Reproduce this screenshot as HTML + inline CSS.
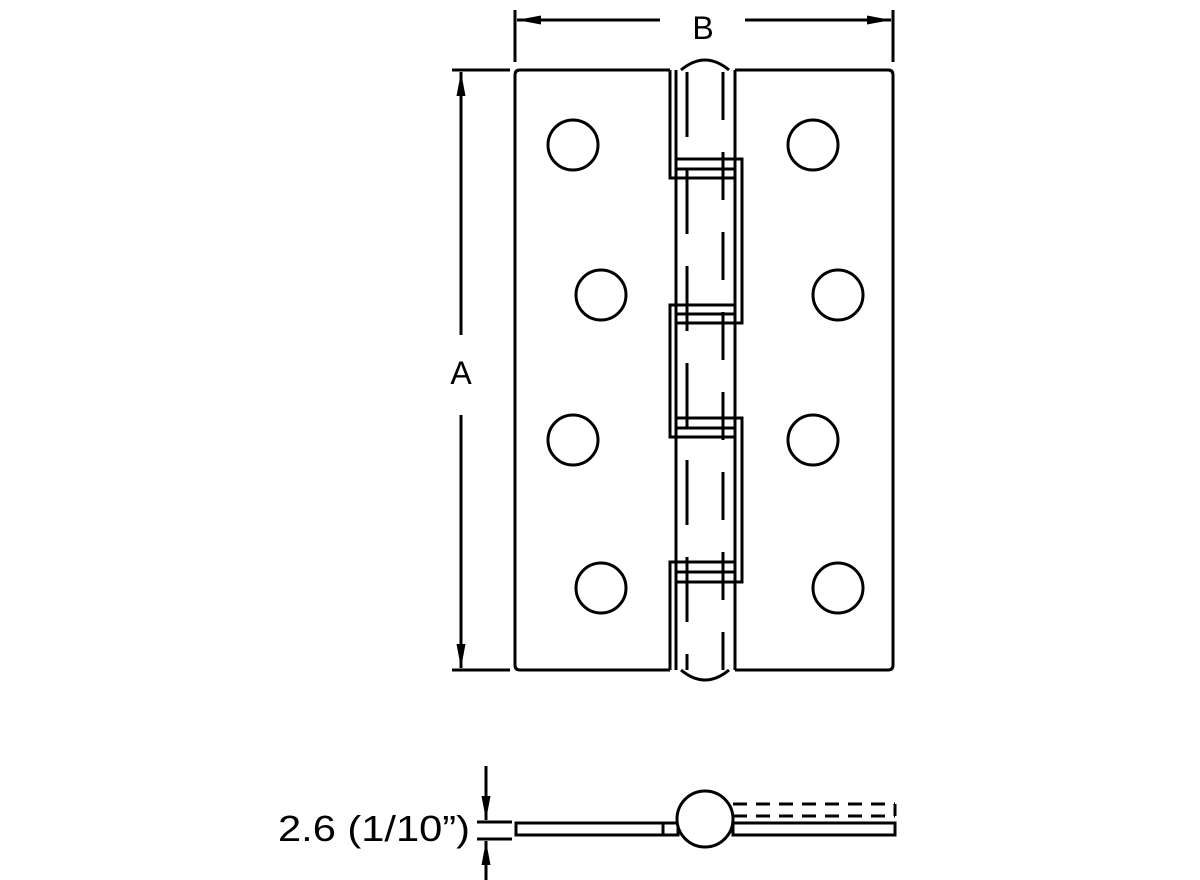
<!DOCTYPE html>
<html><head><style>html,body{margin:0;padding:0;background:#fff}svg{display:block}</style></head><body>
<svg width="1200" height="880" viewBox="0 0 1200 880" xmlns="http://www.w3.org/2000/svg" fill="none" stroke="#000" stroke-width="3">
<defs>
<marker id="a2" viewBox="0 0 24 10" markerWidth="24" markerHeight="10" refX="24" refY="5" orient="auto" markerUnits="userSpaceOnUse"><path d="M0,0.5 L24,5 L0,9.5z" fill="#000" stroke="none"/></marker></defs>
<line x1="515" y1="10" x2="515" y2="62"/><line x1="893" y1="10" x2="893" y2="62"/>
<line x1="660" y1="20" x2="517" y2="20" marker-end="url(#a2)"/><line x1="745" y1="20" x2="891" y2="20" marker-end="url(#a2)"/>
<text x="703" y="39" font-family="Liberation Sans, sans-serif" font-size="32" fill="#000" stroke="none" text-anchor="middle">B</text>
<line x1="452" y1="70" x2="510" y2="70"/><line x1="452" y1="670" x2="510" y2="670"/>
<line x1="461" y1="335" x2="461" y2="72" marker-end="url(#a2)"/><line x1="461" y1="415" x2="461" y2="668" marker-end="url(#a2)"/>
<text x="461" y="384" font-family="Liberation Sans, sans-serif" font-size="32" fill="#000" stroke="none" text-anchor="middle">A</text>
<path d="M670,70 L520,70 Q515,70 515,75 L515,665 Q515,670 520,670 L670,670"/>
<path d="M735,70 L888,70 Q893,70 893,75 L893,665 Q893,670 888,670 L735,670"/>
<path d="M681,70 Q705,50 729,70"/><path d="M681,670 Q705,690 729,670"/>
<line x1="676" y1="70" x2="676" y2="670"/><line x1="735" y1="70" x2="735" y2="670"/>
<polyline points="670,70 670,178 676,178"/>
<polyline points="676,305 670,305 670,437 676,437"/>
<polyline points="676,562 670,562 670,670"/>
<polyline points="676,159 742,159 742,323 676,323"/>
<polyline points="676,418 742,418 742,582 676,582"/>
<line x1="676" y1="169" x2="735" y2="169"/><line x1="676" y1="178" x2="735" y2="178"/>
<line x1="676" y1="305" x2="735" y2="305"/><line x1="676" y1="314" x2="735" y2="314"/>
<line x1="676" y1="428" x2="735" y2="428"/><line x1="676" y1="437" x2="735" y2="437"/>
<line x1="676" y1="562" x2="735" y2="562"/><line x1="676" y1="572" x2="735" y2="572"/>
<line x1="687" y1="70" x2="687" y2="670" stroke-dasharray="65,32" stroke-dashoffset="-2"/>
<line x1="723" y1="70" x2="723" y2="670" stroke-dasharray="48,32" stroke-dashoffset="-2"/>
<circle cx="573" cy="145" r="25"/><circle cx="601" cy="295" r="25"/><circle cx="573" cy="440" r="25"/><circle cx="601" cy="588" r="25"/>
<circle cx="813" cy="145" r="25"/><circle cx="838" cy="295" r="25"/><circle cx="813" cy="440" r="25"/><circle cx="838" cy="588" r="25"/>
<rect x="516" y="823" width="147" height="12"/>
<rect x="663" y="823" width="15" height="12"/>
<rect x="733" y="823" width="162" height="12"/>
<line x1="733" y1="804" x2="895" y2="804" stroke-dasharray="14,9"/>
<line x1="733" y1="816" x2="895" y2="816" stroke-dasharray="14,9"/>
<line x1="895" y1="804" x2="895" y2="816"/>
<circle cx="705" cy="819" r="28" fill="#fff"/>
<line x1="477" y1="822" x2="512" y2="822"/><line x1="477" y1="839" x2="512" y2="839"/>
<line x1="486" y1="766" x2="486" y2="820" marker-end="url(#a2)"/>
<line x1="486" y1="880" x2="486" y2="841" marker-end="url(#a2)"/>
<text x="278" y="841" font-family="Liberation Sans, sans-serif" font-size="36" fill="#000" stroke="none" textLength="192" lengthAdjust="spacingAndGlyphs">2.6 (1/10”)</text>
</svg>
</body></html>
